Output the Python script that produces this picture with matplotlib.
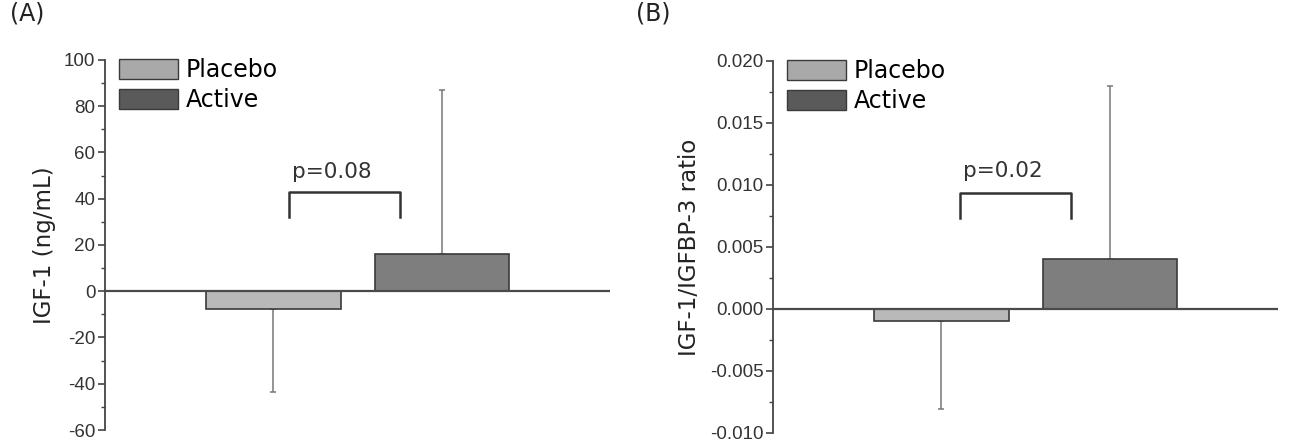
import matplotlib
matplotlib.use("Agg")
import matplotlib.pyplot as plt
from matplotlib.patches import Patch
from matplotlib.ticker import MultipleLocator, AutoMinorLocator

plt.rcParams["axes.unicode_minus"] = False

# data
groups = ["Placebo", "Active"]
igf1_mean = [-7.5, 16.0]
igf1_err = [36.0, 71.0]          # placebo drawn downwards, active upwards
ratio_mean = [-0.001, 0.004]
ratio_err = [0.0071, 0.014]
p_labels = ["p=0.08", "p=0.02"]

bar_colors = ["#b9b9b9", "#7e7e7e"]
legend_colors = ["#a9a9a9", "#5a5a5a"]
edge = "#3a3a3a"
text_font = "DejaVu Sans"
tick_font = "Liberation Sans"


def panel(ax, means, errs, ylim, ystep, fmt, ylabel, ptext, bracket):
    x = [1, 2]
    ax.bar(x, means, width=0.8, color=bar_colors, edgecolor=edge, linewidth=1.2, zorder=2)
    # one-sided error bars: placebo goes down, active goes up
    ax.errorbar(x, means, yerr=[[errs[0], 0], [0, errs[1]]], fmt="none",
                ecolor="#777777", elinewidth=1.1, capsize=2.5, capthick=1.1, zorder=1)
    ax.axhline(0, color="#4a4a4a", linewidth=1.6, zorder=3)
    ax.set_xlim(0, 3)
    ax.set_ylim(*ylim)
    ax.set_xticks([])
    for s in ["top", "right", "bottom"]:
        ax.spines[s].set_visible(False)
    ax.spines["left"].set_color("#444444")
    ax.spines["left"].set_linewidth(1.3)
    ax.yaxis.set_major_locator(MultipleLocator(ystep))
    ax.yaxis.set_minor_locator(AutoMinorLocator(2))
    ax.yaxis.set_major_formatter(fmt)
    ax.tick_params(axis="y", which="major", direction="out", length=5, width=1.2,
                   color="#444444", labelsize=13.5, labelcolor="#333333", pad=2,
                   labelfontfamily=tick_font)
    ax.tick_params(axis="y", which="minor", direction="out", length=3, width=1.0, color="#444444")
    ax.set_ylabel(ylabel, fontsize=16.5, family=text_font, color="#222222", labelpad=6)

    # significance bracket
    x0, x1, ybot, ytop, ytxt = bracket
    ax.plot([x0, x0, x1, x1], [ybot, ytop, ytop, ybot], color="#333333", linewidth=1.8, zorder=4)
    ax.text(x0 + 0.02, ytxt, ptext, fontsize=15.5, family=text_font, color="#333333",
            ha="left", va="baseline")

    handles = [Patch(facecolor=c, edgecolor=edge, linewidth=1.0) for c in legend_colors]
    ax.legend(handles, groups, loc="upper left", bbox_to_anchor=(0.008, 1.03), frameon=False,
              prop={"family": text_font, "size": 17}, handlelength=2.5, handleheight=0.95,
              labelspacing=0.25, handletextpad=0.35, borderaxespad=0)


fig = plt.figure(figsize=(12.89, 4.44), dpi=100)
axA = fig.add_axes([0.0815, 0.0315, 0.392, 0.8335])
axB = fig.add_axes([0.5997, 0.0248, 0.392, 0.838])

panel(axA, igf1_mean, igf1_err, (-60, 100), 20, "{x:.0f}", "IGF-1 (ng/mL)",
      p_labels[0], (1.09, 1.75, 32, 43, 49))
panel(axB, ratio_mean, ratio_err, (-0.010, 0.020), 0.005, "{x:.3f}", "IGF-1/IGFBP-3 ratio",
      p_labels[1], (1.11, 1.77, 0.0073, 0.00935, 0.0106))

fig.text(10 / 1289, 1 - 1 / 444, "(A)", fontsize=17, family=text_font, color="#222222",
         ha="left", va="top")
fig.text(636 / 1289, 1 - 1 / 444, "(B)", fontsize=17, family=text_font, color="#222222",
         ha="left", va="top")

fig.savefig("out.png", dpi=100)
